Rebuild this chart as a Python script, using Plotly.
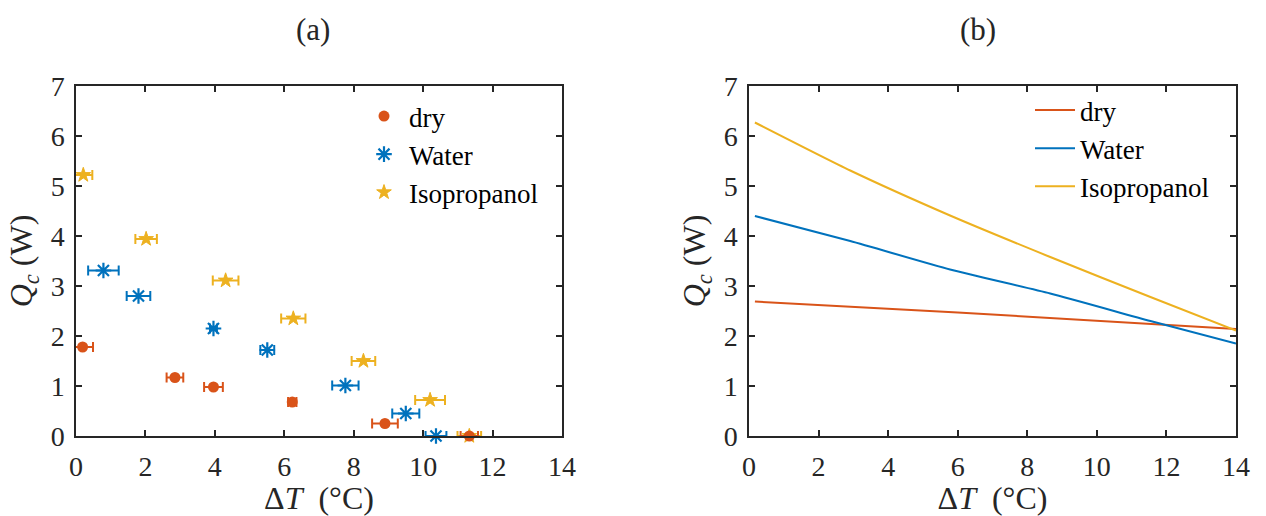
import plotly.graph_objects as go

# ---- panel (a): measured cooling power with temperature-difference error bars
dry_dt = [0.19, 2.85, 3.96, 6.23, 8.90, 11.33]
dry_q = [1.78, 1.17, 0.98, 0.68, 0.25, 0.00]
dry_err = [0.30, 0.24, 0.27, 0.12, 0.37, 0.25]

water_dt = [0.79, 1.80, 3.96, 5.51, 7.76, 9.50, 10.37]
water_q = [3.31, 2.80, 2.15, 1.72, 1.01, 0.45, 0.00]
water_err = [0.44, 0.34, 0.10, 0.20, 0.38, 0.39, 0.30]

iso_dt = [0.21, 2.02, 4.31, 6.26, 8.28, 10.20, 11.33]
iso_q = [5.22, 3.94, 3.11, 2.35, 1.50, 0.72, 0.00]
iso_err = [0.26, 0.31, 0.37, 0.35, 0.34, 0.43, 0.34]

# ---- panel (b): model curves
dry_line_dt = [0.17, 6.00, 14.00]
dry_line_q = [2.69, 2.47, 2.14]

model_dt = [0.17, 2.91, 5.78, 8.66, 11.54, 14.00]
water_line_q = [4.40, 3.90, 3.33, 2.85, 2.30, 1.85]
iso_line_q = [6.27, 5.31, 4.41, 3.58, 2.78, 2.11]

series_names = ["dry", "Water", "Isopropanol"]
panel_titles = ["(a)", "(b)"]
x_ticks = [0, 2, 4, 6, 8, 10, 12, 14]
y_ticks = [0, 1, 2, 3, 4, 5, 6, 7]

RED = "#D95319"
BLUE = "#0072BD"
YELLOW = "#EDB120"
AXC = "#262626"
FONT = "'Liberation Serif', 'DejaVu Serif', serif"

fig = go.Figure()


def err_trace(x, y, e, name, color, marker, rank):
    return go.Scatter(
        x=x, y=y, mode="markers", name=name, legend="legend", legendrank=rank,
        xaxis="x", yaxis="y", cliponaxis=False,
        marker=marker,
        error_x=dict(type="data", array=e, symmetric=True, color=color,
                     thickness=2, width=5),
    )


fig.add_trace(err_trace(iso_dt, iso_q, iso_err, series_names[2], YELLOW,
                        dict(symbol="star", size=11, color=YELLOW,
                             line=dict(width=1, color=YELLOW)), 3))
fig.add_trace(err_trace(water_dt, water_q, water_err, series_names[1], BLUE,
                        dict(symbol="asterisk-open", size=13, color=BLUE,
                             line=dict(width=2.2, color=BLUE)), 2))
fig.add_trace(err_trace(dry_dt, dry_q, dry_err, series_names[0], RED,
                        dict(symbol="circle", size=11, color=RED,
                             line=dict(width=0)), 1))

for x, y, name, color in [
    (dry_line_dt, dry_line_q, series_names[0], RED),
    (model_dt, water_line_q, series_names[1], BLUE),
    (model_dt, iso_line_q, series_names[2], YELLOW),
]:
    fig.add_trace(go.Scatter(
        x=x, y=y, mode="lines", name=name, legend="legend2",
        xaxis="x2", yaxis="y2", line=dict(color=color, width=2, shape="spline",
                                          smoothing=0.6),
    ))

ydom = [1 - 436 / 516, 1 - 86 / 516]
xdoms = [[76 / 1266, 562 / 1266], [749 / 1266, 1236 / 1266]]

x_title = "Δ<i>T</i>\u00a0\u00a0(°C)"
y_title = "<i>Q</i><sub><i>c</i></sub>\u00a0(W)"

common_x = dict(range=[0, 14], tickvals=x_ticks, ticks="inside", ticklen=6,
                tickwidth=1.5, tickcolor=AXC, showline=True, linecolor=AXC,
                linewidth=1.5, mirror="ticks", showgrid=False, zeroline=False,
                automargin=False,
                tickfont=dict(family=FONT, size=28, color=AXC),
                ticklabelstandoff=5,
                title=dict(text=x_title, standoff=10,
                           font=dict(family=FONT, size=32, color=AXC)))
common_y = dict(range=[0, 7], tickvals=y_ticks, ticks="inside", ticklen=6,
                tickwidth=1.5, tickcolor=AXC, showline=True, linecolor=AXC,
                linewidth=1.5, mirror="ticks", showgrid=False, zeroline=False,
                automargin=False,
                tickfont=dict(family=FONT, size=28, color=AXC),
                ticklabelstandoff=4,
                title=dict(text=y_title, standoff=8,
                           font=dict(family=FONT, size=32, color=AXC)))

legend_common = dict(bgcolor="rgba(0,0,0,0)", borderwidth=0,
                     font=dict(family=FONT, size=27, color="#000000"),
                     xanchor="left", yanchor="top", tracegroupgap=0,
                     itemwidth=40)

fig.update_layout(
    width=1266, height=516, autosize=False,
    margin=dict(l=0, r=0, t=0, b=0, autoexpand=False),
    paper_bgcolor="white", plot_bgcolor="white",
    xaxis=dict(domain=xdoms[0], anchor="y", **common_x),
    yaxis=dict(domain=ydom, anchor="x", **common_y),
    xaxis2=dict(domain=xdoms[1], anchor="y2", **common_x),
    yaxis2=dict(domain=ydom, anchor="x2", **common_y),
    legend=dict(x=359 / 1266, y=1 - 92 / 516, **legend_common),
    legend2=dict(x=1030 / 1266, y=1 - 86 / 516, **legend_common),
    annotations=[
        dict(text=panel_titles[0], x=313 / 1266, y=1 - 30 / 516, xref="paper",
             yref="paper", xanchor="center", yanchor="middle", showarrow=False,
             font=dict(family=FONT, size=31, color=AXC)),
        dict(text=panel_titles[1], x=978 / 1266, y=1 - 30 / 516, xref="paper",
             yref="paper", xanchor="center", yanchor="middle", showarrow=False,
             font=dict(family=FONT, size=31, color=AXC)),
    ],
    showlegend=True,
)

fig.write_html("out.html")
